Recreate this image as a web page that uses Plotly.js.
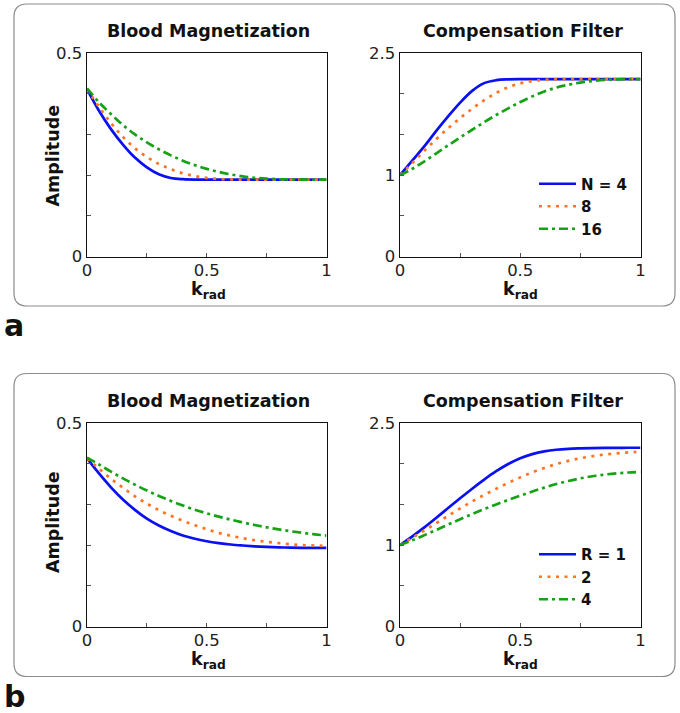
<!DOCTYPE html>
<html>
<head>
<meta charset="utf-8">
<script src="https://cdn.plot.ly/plotly-3.0.1.min.js"></script>
<style>html,body{margin:0;padding:0;background:#fff;}#chart{width:680px;height:713px;}</style>
</head>
<body>
<div id="chart"></div>
<script>
// ---- data ----
var kRad = [0,0.05,0.1,0.15,0.2,0.25,0.3,0.35,0.4,0.45,0.5,0.55,0.6,0.65,0.7,0.75,0.8,0.85,0.9,0.95,1];

// panel a: number of shots N
var legendA = ['N = 4', '8', '16'];
var aMagN4  = [0.411,0.358,0.313,0.275,0.243,0.219,0.202,0.193,0.190,0.189,0.189,0.189,0.189,0.189,0.189,0.189,0.189,0.189,0.189,0.189,0.189];
var aMagN8  = [0.411,0.368,0.328,0.294,0.266,0.2445,0.2275,0.2145,0.2045,0.1975,0.193,0.1905,0.1893,0.189,0.189,0.189,0.189,0.189,0.189,0.189,0.189];
var aMagN16 = [0.413,0.379,0.350,0.323,0.300,0.2805,0.2635,0.2485,0.2355,0.2245,0.2152,0.2077,0.2017,0.197,0.1935,0.1912,0.1899,0.1893,0.189,0.189,0.189];
var aFilN4  = [1.00,1.175,1.35,1.54,1.72,1.89,2.035,2.13,2.166,2.177,2.18,2.18,2.18,2.18,2.18,2.18,2.18,2.18,2.18,2.18,2.18];
var aFilN8  = [1.00,1.145,1.295,1.44,1.575,1.70,1.815,1.92,2.01,2.08,2.127,2.155,2.17,2.177,2.18,2.18,2.18,2.18,2.18,2.18,2.18];
var aFilN16 = [1.00,1.075,1.165,1.265,1.365,1.462,1.557,1.65,1.738,1.82,1.897,1.967,2.027,2.075,2.11,2.137,2.156,2.169,2.176,2.179,2.18];

// panel b: acceleration R
var legendB = ['R = 1', '2', '4'];
var bMagR1 = [0.413,0.376,0.342,0.312,0.2865,0.265,0.248,0.2345,0.2235,0.2155,0.2095,0.205,0.2015,0.199,0.197,0.1955,0.1945,0.1938,0.1933,0.193,0.193];
var bMagR2 = [0.413,0.388,0.363,0.341,0.320,0.302,0.286,0.272,0.260,0.249,0.239,0.230,0.223,0.217,0.212,0.208,0.205,0.202,0.200,0.199,0.198];
var bMagR4 = [0.415,0.398,0.3805,0.364,0.3485,0.334,0.3208,0.3086,0.2974,0.287,0.278,0.270,0.2626,0.2557,0.2494,0.2437,0.2386,0.2341,0.2301,0.2265,0.2233];
var bFilR1 = [1.00,1.105,1.215,1.333,1.455,1.575,1.693,1.805,1.908,1.997,2.068,2.118,2.151,2.171,2.182,2.188,2.192,2.194,2.195,2.196,2.196];
var bFilR2 = [1.00,1.088,1.177,1.268,1.36,1.45,1.536,1.616,1.692,1.764,1.832,1.894,1.948,1.995,2.035,2.067,2.092,2.112,2.127,2.139,2.148];
var bFilR4 = [1.00,1.058,1.12,1.185,1.252,1.318,1.382,1.443,1.50,1.555,1.607,1.658,1.706,1.75,1.788,1.82,1.846,1.866,1.881,1.892,1.90];

var magTicks = [0,0.5], magTickText = ['0','0.5'], magMinor = [0.1,0.2,0.3,0.4];
var filTicks = [0,1,2.5], filTickText = ['0','1','2.5'], filMinor = [0.5,1.5,2];
var kTicks = [0,0.5,1], kTickText = ['0','0.5','1'], kMinor = [0.25,0.75];

var panelTitles = ['Blood Magnetization', 'Compensation Filter'];

// ---- styles ----
var FONT = 'DejaVu Sans';
var W = 680, H = 713;
var colors = ['#0a10f0', '#ff7322', '#15a315'];
var dashes = ['solid', '3px,5.5px', '9px,4px,3px,4px'];
var LW = 2.7;

function px(x){ return x / W; }
function py(y){ return 1 - y / H; }

var traces = [];
function addSet(series, names, xa, ya, legendId, show){
  for (var i = 0; i < series.length; i++){
    traces.push({
      x: kRad, y: series[i], xaxis: xa, yaxis: ya, type: 'scatter', mode: 'lines',
      name: names[i], showlegend: show, legend: legendId,
      line: {color: colors[i], width: LW, dash: dashes[i], shape: 'spline', smoothing: 1},
      hoverinfo: 'skip'
    });
  }
}
addSet([aMagN4, aMagN8, aMagN16], legendA, 'x', 'y', 'legend', false);
addSet([aFilN4, aFilN8, aFilN16], legendA, 'x2', 'y2', 'legend', true);
addSet([bMagR1, bMagR2, bMagR4], legendB, 'x3', 'y3', 'legend2', false);
addSet([bFilR1, bFilR2, bFilR4], legendB, 'x4', 'y4', 'legend2', true);

var xDomL = [px(87), px(326.5)];
var xDomR = [px(400), px(640.5)];
var yDomA = [py(256.5), py(53)];
var yDomB = [py(626.5), py(423)];

function baseAxis(dom, anchor, rng, vals, text, minor){
  return {domain: dom, anchor: anchor, range: rng, tickmode: 'array', tickvals: vals, ticktext: text,
    ticks: 'inside', ticklen: 4, tickwidth: 1, tickcolor: '#555',
    minor: {tickmode: 'array', tickvals: minor, ticks: 'inside', ticklen: 4, tickwidth: 1, tickcolor: '#555', showgrid: false},
    showline: true, mirror: true, linecolor: '#111', linewidth: 1.5, showgrid: false, zeroline: false,
    tickfont: {family: FONT, size: 16.5, color: '#222'}, fixedrange: true};
}
function xAxis(dom, anchor){
  var a = baseAxis(dom, anchor, [0,1], kTicks, kTickText, kMinor);
  a.ticklabelstandoff = -2;
  return a;
}
function yAxis(dom, anchor, vals, text, minor, rng){
  return baseAxis(dom, anchor, rng, vals, text, minor);
}

function roundBox(x0, y0, x1, y1, r){
  var X0 = px(x0), X1 = px(x1), Y0 = py(y0), Y1 = py(y1), rx = r / W, ry = r / H;
  var p = 'M' + (X0+rx) + ',' + Y0 + ' L' + (X1-rx) + ',' + Y0 +
    ' Q' + X1 + ',' + Y0 + ' ' + X1 + ',' + (Y0-ry) +
    ' L' + X1 + ',' + (Y1+ry) + ' Q' + X1 + ',' + Y1 + ' ' + (X1-rx) + ',' + Y1 +
    ' L' + (X0+rx) + ',' + Y1 + ' Q' + X0 + ',' + Y1 + ' ' + X0 + ',' + (Y1+ry) +
    ' L' + X0 + ',' + (Y0-ry) + ' Q' + X0 + ',' + Y0 + ' ' + (X0+rx) + ',' + Y0 + ' Z';
  return {type: 'path', xref: 'paper', yref: 'paper', path: p, line: {color: '#8c8c8c', width: 1.2}, layer: 'below'};
}

function ann(text, x, y, size, extra){
  var a = {text: text, x: px(x), y: py(y), xref: 'paper', yref: 'paper', showarrow: false,
    xanchor: 'center', yanchor: 'middle', font: {family: FONT, size: size, color: '#111', weight: 'bold'}};
  if (extra) for (var k in extra) a[k] = extra[k];
  return a;
}

var annotations = [
  ann(panelTitles[0], 208, 30.7, 17.5), ann(panelTitles[1], 523, 30.7, 17.5),
  ann(panelTitles[0], 208, 400.7, 17.5), ann(panelTitles[1], 523, 400.7, 17.5),
  ann('Amplitude', 52.5, 156, 17.5, {textangle: -90}),
  ann('Amplitude', 52.5, 522.5, 17.5, {textangle: -90}),
  ann('k<sub>rad</sub>', 208, 290, 17.5), ann('k<sub>rad</sub>', 520, 290, 17.5),
  ann('k<sub>rad</sub>', 208, 660, 17.5), ann('k<sub>rad</sub>', 520, 660, 17.5),
  ann('a', 14, 326, 30), ann('b', 14, 696, 30)
];

var legendStyle = function(yc){
  return {x: px(534), xanchor: 'left', y: py(yc), yanchor: 'middle', bgcolor: 'rgba(0,0,0,0)',
    borderwidth: 0, itemwidth: 37, tracegroupgap: 0,
    font: {family: FONT, size: 15, color: '#111', weight: 'bold'}};
};

var layout = {
  width: W, height: H, margin: {l: 0, r: 0, t: 0, b: 0},
  paper_bgcolor: '#fff', plot_bgcolor: '#fff',
  font: {family: FONT, color: '#111'},
  xaxis: xAxis(xDomL, 'y'), yaxis: yAxis(yDomA, 'x', magTicks, magTickText, magMinor, [0,0.5]),
  xaxis2: xAxis(xDomR, 'y2'), yaxis2: yAxis(yDomA, 'x2', filTicks, filTickText, filMinor, [0,2.5]),
  xaxis3: xAxis(xDomL, 'y3'), yaxis3: yAxis(yDomB, 'x3', magTicks, magTickText, magMinor, [0,0.5]),
  xaxis4: xAxis(xDomR, 'y4'), yaxis4: yAxis(yDomB, 'x4', filTicks, filTickText, filMinor, [0,2.5]),
  legend: legendStyle(206.5),
  legend2: legendStyle(577),
  showlegend: true,
  shapes: [roundBox(14, 4, 675, 306, 13), roundBox(14, 373.5, 675, 676.5, 13)],
  annotations: annotations
};

Plotly.newPlot('chart', traces, layout, {staticPlot: true, displayModeBar: false});
</script>
</body>
</html>
